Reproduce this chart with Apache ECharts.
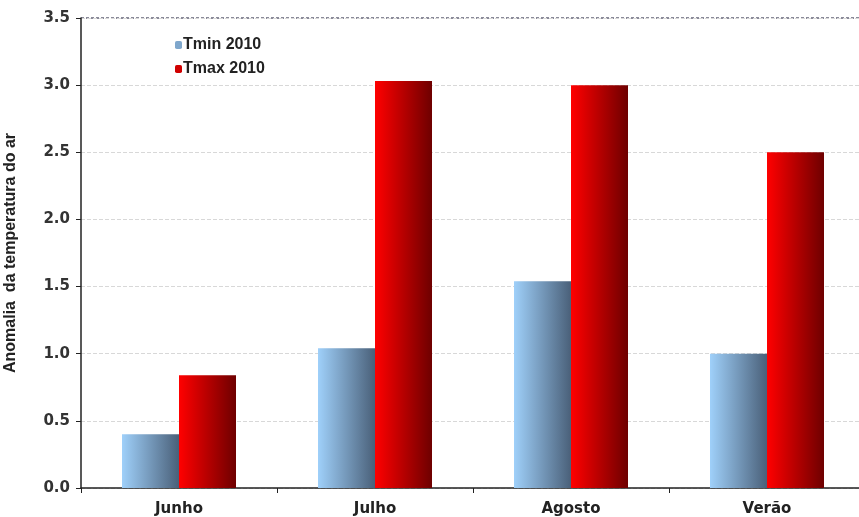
<!DOCTYPE html>
<html><head><meta charset="utf-8">
<script src="https://cdn.jsdelivr.net/npm/echarts@6/dist/echarts.min.js"></script>
<style>html,body{margin:0;padding:0;background:#fff}#c{width:859px;height:517px}</style>
</head><body><div id="c"></div>
<script>
const categories = ['Junho', 'Julho', 'Agosto', 'Verão'];
const tmin2010 = [0.40, 1.04, 1.54, 1.00];
const tmax2010 = [0.84, 3.03, 3.00, 2.50];
const yTicks = [0, 0.5, 1.0, 1.5, 2.0, 2.5, 3.0, 3.5];

const chart = echarts.init(document.getElementById('c'));
const grad = (a, b) => new echarts.graphic.LinearGradient(0, 0, 1, 0, [{offset: 0, color: a}, {offset: 1, color: b}]);
chart.setOption({
  animation: false,
  backgroundColor: '#fff',
  grid: {left: 81, top: 18, width: 784, height: 470, outerBoundsMode: 'none', containLabel: false},
  legend: {
    orient: 'vertical', left: 170, top: 32, itemGap: 8, itemWidth: 7, itemHeight: 8,
    textStyle: {fontFamily: 'Liberation Sans, Arial', fontWeight: 'bold', fontSize: 16, color: '#222', padding: [0, 0, 0, -4]},
    data: [
      {name: 'Tmin 2010', itemStyle: {color: '#7fa7cc'}},
      {name: 'Tmax 2010', itemStyle: {color: '#d00000'}}
    ]
  },
  xAxis: {
    type: 'category', data: categories,
    axisLine: {lineStyle: {color: '#222', width: 1.5}},
    axisTick: {show: true, alignWithLabel: false, length: 5, lineStyle: {color: '#222'}},
    axisLabel: {fontFamily: 'DejaVu Sans, Verdana', fontWeight: 'bold', fontSize: 15, color: '#222', margin: 14}
  },
  yAxis: {
    type: 'value', min: 0, max: 3.5, interval: 0.5,
    name: 'Anomalia  da temperatura do ar', nameLocation: 'middle', nameGap: 62, nameRotate: 90,
    nameTextStyle: {fontFamily: 'Liberation Sans, Arial', fontWeight: 'bold', fontSize: 16, color: '#222'},
    axisLine: {show: true, lineStyle: {color: '#222', width: 1.5}},
    axisTick: {show: true, length: 5, lineStyle: {color: '#222'}},
    axisLabel: {fontFamily: 'DejaVu Sans, Verdana', fontWeight: 'bold', fontSize: 15, color: '#333', margin: 11,
      formatter: v => yTicks.includes(v) ? v.toFixed(1) : ''},
    splitLine: {show: true, lineStyle: {color: '#d8d8d8', type: 'dashed', width: 1}}
  },
  series: [
    {name: 'Tmin 2010', type: 'bar', data: tmin2010, barWidth: 57, barGap: '0%',
      itemStyle: {color: grad('#9fd0fa', '#4a6079')}},
    {name: 'Tmax 2010', type: 'bar', data: tmax2010, barWidth: 57, barGap: '0%',
      itemStyle: {color: grad('#ff0000', '#6e0000')}}
  ],
  graphic: [{type: 'line', shape: {x1: 81, y1: 18, x2: 859, y2: 18}, style: {stroke: '#8a8a99', lineWidth: 2, lineDash: [3, 2]}}]
});
</script></body></html>
